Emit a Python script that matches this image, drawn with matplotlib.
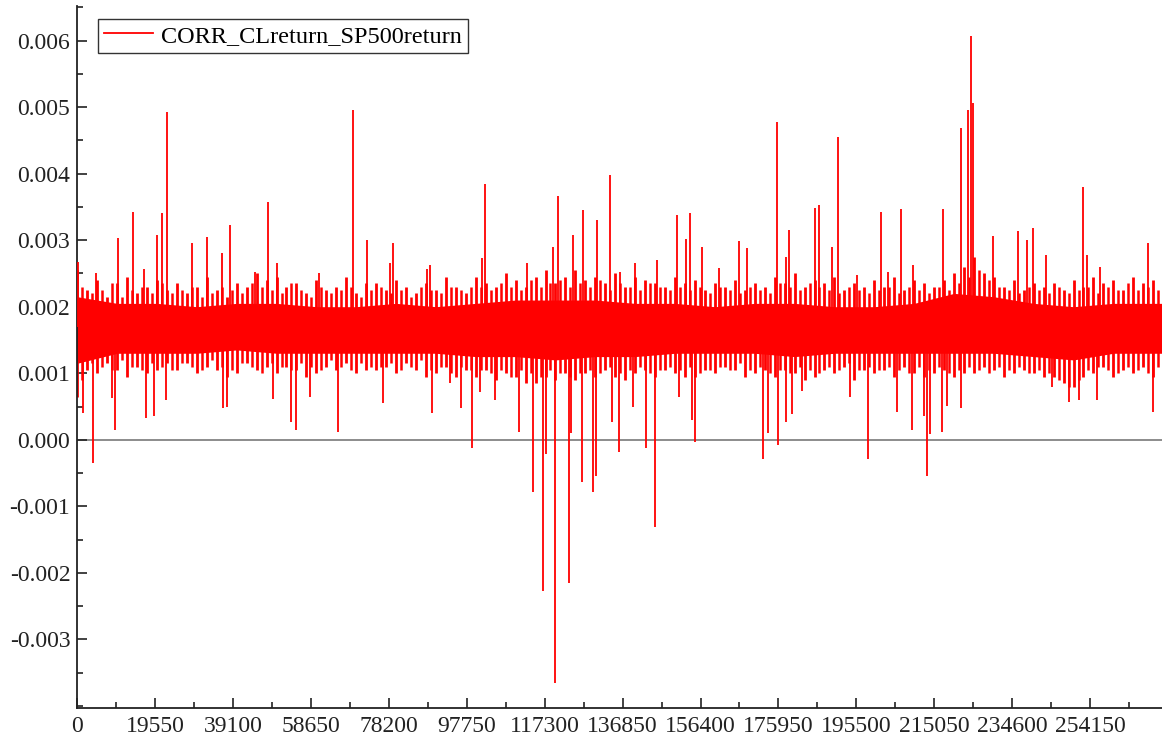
import numpy as np
import matplotlib
matplotlib.use("Agg")
import matplotlib.pyplot as plt
from matplotlib.lines import Line2D
from matplotlib.ticker import MultipleLocator, FixedLocator, FuncFormatter

plt.rcParams["font.family"] = ["Liberation Serif", "DejaVu Serif"]

SERIES_NAME = "CORR_CLreturn_SP500return"
BASE = 1.7e-3  # level the series hovers around

# solid middle of the series (in 1e-3 units)
core_x = np.arange(0, 290000, 10000)
core_top = np.array([2.15, 2.05, 2.05, 2.00, 2.05, 2.05, 2.00, 2.00, 2.05, 2.00,
                     2.05, 2.10, 2.10, 2.10, 2.05, 2.05, 2.00, 2.05, 2.05, 2.00,
                     2.00, 2.05, 2.20, 2.15, 2.05, 2.00, 2.05, 2.05, 2.05]) * 1e-3
core_bot = np.array([1.15, 1.30, 1.30, 1.30, 1.35, 1.30, 1.30, 1.30, 1.30, 1.30,
                     1.25, 1.25, 1.20, 1.25, 1.25, 1.30, 1.30, 1.30, 1.25, 1.30,
                     1.30, 1.30, 1.30, 1.30, 1.25, 1.20, 1.30, 1.30, 1.30]) * 1e-3

# ordinary swings around the middle, one per 2500 samples
band_x = np.arange(0, 275000, 2500)
band_top = np.array([
    2.55, 2.25, 2.40, 2.15, 2.35, 2.45, 2.20, 2.30, 2.40, 2.25,
    2.35, 2.20, 2.30, 2.45, 2.25, 2.15, 2.35, 2.30, 2.50, 2.40,
    2.45, 2.30, 2.35, 2.20, 2.40, 2.25, 2.30, 2.45, 2.20, 2.35,
    2.35, 2.25, 2.40, 2.30, 2.20, 2.35, 2.25, 2.45, 2.30, 2.20,
    2.45, 2.35, 2.30, 2.50, 2.40, 2.30, 2.45, 2.55, 2.35, 2.45,
    2.55, 2.40, 2.45, 2.35, 2.50, 2.30, 2.45, 2.40, 2.35, 2.30,
    2.45, 2.35, 2.40, 2.25, 2.35, 2.30, 2.40, 2.25, 2.35, 2.30,
    2.45, 2.35, 2.50, 2.30, 2.40, 2.35, 2.45, 2.25, 2.35, 2.30,
    2.40, 2.30, 2.45, 2.25, 2.40, 2.35, 2.30, 2.40, 2.50, 2.60,
    2.75, 2.50, 2.45, 2.30, 2.40, 2.25, 2.35, 2.30, 2.35, 2.25,
    2.40, 2.30, 2.45, 2.35, 2.40, 2.25, 2.45, 2.35, 2.40, 2.30,
]) * 1e-3
band_bot = np.array([
    0.65, 1.05, 1.00, 1.15, 1.05, 0.95, 1.10, 1.00, 1.05, 1.15,
    1.05, 1.15, 1.00, 1.10, 1.05, 0.95, 1.00, 1.15, 1.05, 1.10,
    1.00, 1.10, 1.05, 0.95, 1.00, 1.10, 1.05, 1.15, 1.00, 1.05,
    1.05, 1.10, 1.00, 1.15, 1.05, 0.95, 1.00, 1.10, 0.95, 1.05,
    0.95, 1.05, 0.90, 1.00, 0.95, 0.85, 0.85, 0.95, 0.90, 1.00,
    0.90, 1.00, 0.95, 1.05, 0.95, 0.90, 1.00, 1.05, 0.95, 1.05,
    1.00, 0.95, 0.95, 1.05, 1.00, 1.10, 1.05, 0.95, 1.00, 1.05,
    0.95, 1.05, 1.00, 0.90, 0.95, 1.05, 1.00, 1.10, 0.90, 1.05,
    1.00, 1.05, 0.95, 1.10, 1.00, 0.95, 1.00, 1.05, 0.95, 1.00,
    1.00, 1.10, 1.05, 0.95, 1.00, 1.05, 1.00, 0.95, 0.95, 0.85,
    0.80, 0.95, 1.00, 1.10, 0.95, 1.05, 1.00, 1.10, 0.95, 1.05,
]) * 1e-3

# smaller swings in between
band2_x = band_x + 1250
band2_top = np.array([
    2.30, 2.20, 2.25, 2.35, 2.15, 2.25, 2.30, 2.20, 2.35, 2.20,
    2.25, 2.30, 2.15, 2.20, 2.30, 2.25, 2.20, 2.35, 2.30, 2.25,
    2.20, 2.35, 2.25, 2.15, 2.30, 2.20, 2.25, 2.30, 2.15, 2.25,
    2.30, 2.20, 2.25, 2.15, 2.30, 2.25, 2.20, 2.30, 2.25, 2.30,
    2.30, 2.25, 2.35, 2.30, 2.25, 2.40, 2.30, 2.35, 2.40, 2.30,
    2.35, 2.30, 2.40, 2.25, 2.35, 2.30, 2.25, 2.35, 2.30, 2.25,
    2.30, 2.25, 2.30, 2.20, 2.30, 2.25, 2.20, 2.30, 2.25, 2.20,
    2.35, 2.30, 2.25, 2.35, 2.30, 2.25, 2.20, 2.30, 2.25, 2.20,
    2.25, 2.30, 2.20, 2.30, 2.25, 2.20, 2.30, 2.25, 2.35, 2.45,
    2.55, 2.40, 2.30, 2.25, 2.20, 2.30, 2.25, 2.20, 2.30, 2.20,
    2.25, 2.30, 2.20, 2.30, 2.25, 2.35, 2.25, 2.30, 2.25, 2.30,
]) * 1e-3
band2_bot = np.array([
    0.90, 1.15, 1.10, 1.05, 1.20, 1.10, 1.05, 1.15, 1.10, 1.05,
    1.15, 1.10, 1.05, 1.20, 1.10, 1.05, 1.15, 1.10, 1.00, 1.15,
    1.10, 1.05, 1.15, 1.10, 1.05, 1.20, 1.10, 1.05, 1.15, 1.10,
    1.10, 1.15, 1.05, 1.10, 1.20, 1.05, 1.10, 1.00, 1.10, 1.05,
    1.05, 1.00, 1.05, 0.95, 1.05, 1.00, 0.95, 1.05, 1.00, 0.95,
    1.00, 1.05, 1.00, 1.10, 1.00, 1.05, 1.10, 1.00, 1.05, 1.10,
    1.05, 1.10, 1.00, 1.05, 1.10, 1.05, 1.15, 1.05, 1.10, 1.00,
    1.05, 1.00, 1.10, 1.05, 1.00, 1.10, 1.05, 1.15, 1.05, 1.10,
    1.05, 1.10, 1.05, 1.00, 1.10, 1.05, 1.10, 1.00, 1.05, 1.10,
    1.05, 1.00, 1.10, 1.05, 1.10, 1.00, 1.05, 1.00, 0.90, 0.80,
    0.90, 1.05, 1.10, 1.05, 1.00, 1.10, 1.05, 1.00, 1.10, 1.05,
]) * 1e-3

# isolated spikes above the band
up_x = [200, 4700, 10200, 14000, 16700, 20000, 21300, 22500, 28800, 32600,
        36300, 38300, 44600, 47900, 50100, 60700, 69200, 72700, 78500, 79200,
        87800, 88500, 101600, 102300, 112900, 119400, 120700, 124400, 126900, 130500,
        133700, 136200, 140000, 145500, 150500, 152800, 153800, 156800, 161100, 166100,
        168100, 175600, 177900, 178600, 185200, 186100, 189400, 190900, 195700, 201800,
        203500, 206800, 209800, 217300, 221700, 223500, 224300, 224800, 229900, 236100,
        238400, 239900, 243200, 252400, 253400, 256700, 268800]
up_y = np.array([2.67, 2.51, 3.03, 3.43, 2.57, 3.07, 3.41, 4.93, 2.95, 3.05,
                 2.80, 3.23, 2.52, 3.58, 2.66, 2.51, 4.96, 3.00, 2.66, 2.96,
                 2.56, 2.63, 2.73, 3.85, 2.66, 2.90, 3.67, 3.08, 3.46, 3.30,
                 3.98, 2.52, 2.66, 2.70, 3.38, 3.02, 3.41, 2.90, 2.58, 2.98,
                 2.88, 4.78, 2.75, 3.16, 3.48, 3.53, 2.90, 4.55, 2.48, 3.43,
                 2.52, 3.47, 2.63, 3.47, 4.69, 4.96, 6.07, 5.06, 3.06, 3.14,
                 3.00, 3.18, 2.78, 3.80, 2.78, 2.60, 2.96]) * 1e-3

# isolated spikes below the band
down_x = [1400, 3950, 8700, 9500, 17200, 19300, 22300, 36600, 37600, 49100,
          53600, 54900, 58400, 65400, 76700, 89000, 93550, 96300, 99100, 101100,
          104900, 110900, 114400, 116900, 117700, 119900, 123400, 123900, 126700, 129400,
          130200, 134200, 135900, 139500, 142700, 145000, 151000, 154300, 155000, 172100,
          173400, 175900, 177900, 179400, 181900, 193900, 198500, 205800, 209500, 212500,
          213300, 214000, 217000, 218300, 221800, 244700, 248900, 251400, 255900, 270000]
down_y = np.array([0.40, -0.35, 0.63, 0.15, 0.33, 0.35, 0.60, 0.48, 0.50, 0.61,
                   0.27, 0.15, 0.65, 0.12, 0.55, 0.40, 0.86, 0.48, -0.13, 0.72,
                   0.60, 0.12, -0.78, -2.27, -0.21, -3.66, -2.15, 0.10, -0.64, -0.78,
                   -0.54, 0.27, -0.18, 0.50, -0.12, -1.31, 0.65, 0.30, -0.03, -0.29,
                   0.10, -0.08, 0.26, 0.38, 0.74, 0.65, -0.29, 0.42, 0.15, 0.35,
                   -0.55, 0.08, 0.12, 0.51, 0.48, 0.80, 0.57, 0.60, 0.60, 0.42]) * 1e-3

fig = plt.figure(figsize=(11.62, 7.39), dpi=100)
ax = fig.add_axes([0.0665, 0.042, 0.9335, 0.950])

ax.axhline(0, color="#8c8c8c", lw=1.4, zorder=1)
ax.fill_between(core_x, core_bot, core_top, color="red", lw=0, zorder=2)
ax.vlines(band_x, band_bot, band_top, color="red", lw=2.0, zorder=2)
ax.vlines(band2_x, band2_bot, band2_top, color="red", lw=1.8, zorder=2)
ax.vlines(up_x, BASE, up_y, color="red", lw=1.3, zorder=3)
ax.vlines(down_x, down_y, BASE, color="red", lw=1.3, zorder=3)

ax.set_xlim(0, 272200)
ax.set_ylim(-0.00403, 0.00652)

ax.xaxis.set_major_locator(MultipleLocator(19550))
ax.xaxis.set_minor_locator(MultipleLocator(9775))
ax.yaxis.set_major_locator(FixedLocator([-0.003, -0.002, -0.001, 0.0,
                                         0.001, 0.002, 0.003, 0.004, 0.005, 0.006]))
ax.yaxis.set_minor_locator(MultipleLocator(0.0005))
ax.xaxis.set_major_formatter(FuncFormatter(lambda v, p: f"{int(round(v))}"))
ax.yaxis.set_major_formatter(FuncFormatter(lambda v, p: f"{v:.3f}".replace("-0.000", "0.000")))

for s in ["top", "right"]:
    ax.spines[s].set_visible(False)
for s in ["left", "bottom"]:
    ax.spines[s].set_linewidth(1.3)
    ax.spines[s].set_color("#222222")

ax.tick_params(which="major", direction="in", length=7.5, width=1.2,
               labelsize=17, colors="#222222", pad=5)
ax.tick_params(which="minor", direction="in", length=4.5, width=1.2, colors="#222222")
ax.tick_params(axis="x", pad=6)

handle = Line2D([], [], color="red", lw=1.3)
leg = ax.legend([handle], [SERIES_NAME], loc="upper left",
                bbox_to_anchor=(0.019, 0.9815), borderaxespad=0,
                fontsize=17.5, frameon=True, fancybox=False,
                handlelength=2.0, handletextpad=0.35, borderpad=0.25)
leg.get_frame().set_edgecolor("black")
leg.get_frame().set_linewidth(1.0)

fig.savefig("out.png", dpi=100)
